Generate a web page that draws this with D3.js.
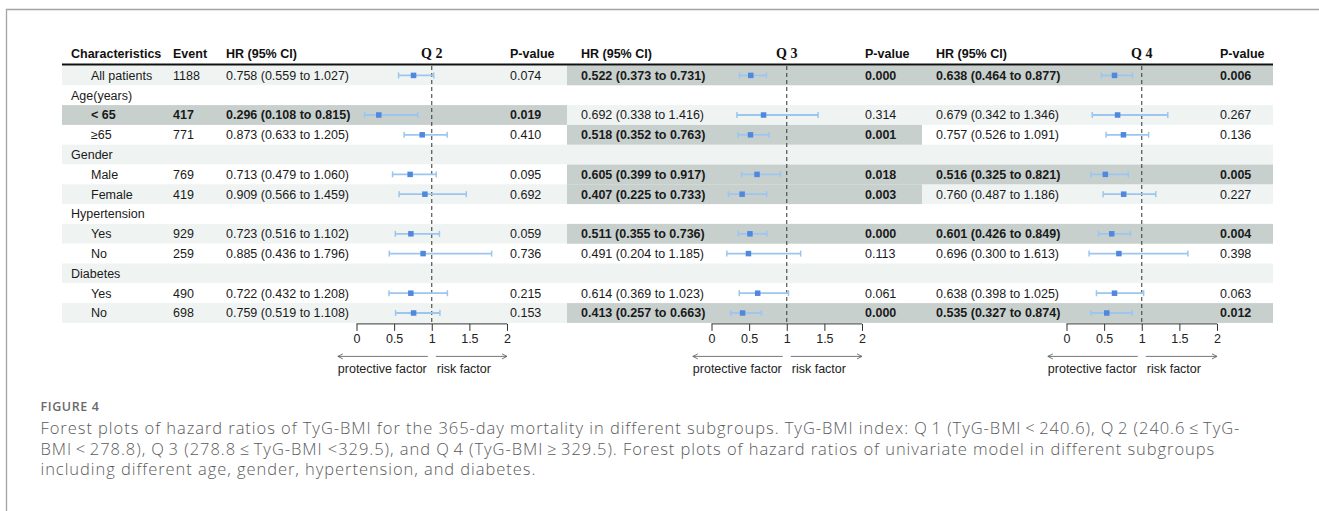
<!DOCTYPE html>
<html>
<head>
<meta charset="utf-8">
<script src="https://cdn.jsdelivr.net/npm/d3@7"></script>
<style>
  body { margin: 0; background: #fff; }
  svg text { font-family: "Liberation Sans", Arial, sans-serif; }
</style>
</head>
<body>
<div id="chart"></div>
<script>
// rows of the table
var labels = ["All patients", "Age(years)", "< 65", "\u226565", "Gender", "Male", "Female",
  "Hypertension", "Yes", "No", "Diabetes", "Yes", "No"];
var groupRow = [false, true, false, false, true, false, false, true, false, false, true, false, false];
var events = [1188, null, 417, 771, null, 769, 419, null, 929, 259, null, 490, 698];

// quartile names
var quartiles = ["Q 2", "Q 3", "Q 4"];

// Q 2
var q2HR = [0.758, null, 0.296, 0.873, null, 0.713, 0.909, null, 0.723, 0.885, null, 0.722, 0.759];
var q2Lo = [0.559, null, 0.108, 0.633, null, 0.479, 0.566, null, 0.516, 0.436, null, 0.432, 0.519];
var q2Hi = [1.027, null, 0.815, 1.205, null, 1.060, 1.459, null, 1.102, 1.796, null, 1.208, 1.108];
var q2P = [0.074, null, 0.019, 0.410, null, 0.095, 0.692, null, 0.059, 0.736, null, 0.215, 0.153];

// Q 3
var q3HR = [0.522, null, 0.692, 0.518, null, 0.605, 0.407, null, 0.511, 0.491, null, 0.614, 0.413];
var q3Lo = [0.373, null, 0.338, 0.352, null, 0.399, 0.225, null, 0.355, 0.204, null, 0.369, 0.257];
var q3Hi = [0.731, null, 1.416, 0.763, null, 0.917, 0.733, null, 0.736, 1.185, null, 1.023, 0.663];
var q3P = [0.000, null, 0.314, 0.001, null, 0.018, 0.003, null, 0.000, 0.113, null, 0.061, 0.000];

// Q 4
var q4HR = [0.638, null, 0.679, 0.757, null, 0.516, 0.760, null, 0.601, 0.696, null, 0.638, 0.535];
var q4Lo = [0.464, null, 0.342, 0.526, null, 0.325, 0.487, null, 0.426, 0.300, null, 0.398, 0.327];
var q4Hi = [0.877, null, 1.346, 1.091, null, 0.821, 1.186, null, 0.849, 1.613, null, 1.025, 0.874];
var q4P = [0.006, null, 0.267, 0.136, null, 0.005, 0.227, null, 0.004, 0.398, null, 0.063, 0.012];

// axis ticks
var tickValues = [0, 0.5, 1, 1.5, 2];

var captionTitle = "FIGURE 4";
var captionLines = [
  "Forest plots of hazard ratios of TyG-BMI for the 365-day mortality in different subgroups. TyG-BMI index: Q\u20091 (TyG-BMI\u2009<\u2009240.6), Q\u20092 (240.6\u2009\u2264\u2009TyG-",
  "BMI\u2009<\u2009278.8), Q\u20093 (278.8\u2009\u2264\u2009TyG-BMI <329.5), and Q\u20094 (TyG-BMI\u2009\u2265\u2009329.5). Forest plots of hazard ratios of univariate model in different subgroups",
  "including different age, gender, hypertension, and diabetes."
];

var blocks = [
  { name: quartiles[0], hr: q2HR, lo: q2Lo, hi: q2Hi, p: q2P },
  { name: quartiles[1], hr: q3HR, lo: q3Lo, hi: q3Hi, p: q3P },
  { name: quartiles[2], hr: q4HR, lo: q4Lo, hi: q4Hi, p: q4P }
];

// layout
var width = 1319, height = 511;
var tableLeft = 62, tableRight = 1273;
var blockEdges = [212, 567, 922, 1273];
var eventX = 173, charX = 71, subX = 91;
var fontSize = 12.5;
var lightFill = "#eff3f2", darkFill = "#c8d0ce";
var ciColor = "#9cc6ef", pointColor = "#5088de";

var svg = d3.select("#chart").append("svg")
  .attr("width", width)
  .attr("height", height);

// frame
svg.append("path")
  .attr("d", "M6.5,511 V9.5 H1319")
  .attr("fill", "none")
  .attr("stroke", "#a3a3a3")
  .attr("stroke-width", 1.3);

var y = d3.scaleBand()
  .domain(d3.range(labels.length))
  .range([65.5, 65.5 + 19.8 * labels.length]);

var headerY = 54;
var fmt = d3.format(".3f");
var fmtHR = function (i, b) {
  return fmt(b.hr[i]) + " (" + fmt(b.lo[i]) + " to " + fmt(b.hi[i]) + ")";
};

// zebra rows
svg.append("g").selectAll("rect")
  .data(d3.range(labels.length))
  .enter().append("rect")
  .attr("x", tableLeft)
  .attr("y", function (i) { return y(i); })
  .attr("width", tableRight - tableLeft)
  .attr("height", y.bandwidth())
  .attr("fill", function (i) { return i % 2 == 0 ? lightFill : "#fff"; });

// significant cells
blocks.forEach(function (b, k) {
  var x0 = k == 0 ? tableLeft : blockEdges[k];
  svg.append("g").selectAll("rect")
    .data(d3.range(labels.length).filter(function (i) { return b.p[i] != null && b.p[i] < 0.05; }))
    .enter().append("rect")
    .attr("x", x0)
    .attr("y", function (i) { return y(i); })
    .attr("width", blockEdges[k + 1] - x0)
    .attr("height", y.bandwidth())
    .attr("fill", darkFill);
});

// header
var header = svg.append("g")
  .attr("font-size", fontSize)
  .attr("font-weight", "bold")
  .attr("fill", "#111");
header.append("text").attr("x", charX).attr("y", headerY).attr("dy", "0.35em").text("Characteristics");
header.append("text").attr("x", eventX).attr("y", headerY).attr("dy", "0.35em").text("Event");

svg.append("line")
  .attr("x1", tableLeft).attr("x2", tableRight)
  .attr("y1", 64.5).attr("y2", 64.5)
  .attr("stroke", "#111")
  .attr("stroke-width", 2);

// characteristics and events
var boldFirst = function (i) { return q2P[i] != null && q2P[i] < 0.05; };
var left = svg.append("g").attr("font-size", fontSize).attr("fill", "#1a1a1a");
left.selectAll(".lab")
  .data(d3.range(labels.length))
  .enter().append("text")
  .attr("x", function (i) { return groupRow[i] ? charX : subX; })
  .attr("y", function (i) { return y(i) + y.bandwidth() / 2; })
  .attr("dy", "0.35em")
  .attr("font-weight", function (i) { return boldFirst(i) ? "bold" : null; })
  .text(function (i) { return labels[i]; });
left.selectAll(".ev")
  .data(d3.range(labels.length).filter(function (i) { return events[i] != null; }))
  .enter().append("text")
  .attr("x", eventX)
  .attr("y", function (i) { return y(i) + y.bandwidth() / 2; })
  .attr("dy", "0.35em")
  .attr("font-weight", function (i) { return boldFirst(i) ? "bold" : null; })
  .text(function (i) { return events[i]; });

// one block per quartile
blocks.forEach(function (b, k) {
  var start = blockEdges[k];
  var x = d3.scaleLinear().domain([0, 2]).range([start + 144.5, start + 295]);
  var pX = start + 298;
  var hrX = start + 14;
  var rows = d3.range(labels.length).filter(function (i) { return b.hr[i] != null; });
  var sig = function (i) { return b.p[i] < 0.05; };
  var g = svg.append("g");

  // header texts
  g.append("text").attr("x", hrX).attr("y", headerY).attr("dy", "0.35em")
    .attr("font-size", fontSize).attr("font-weight", "bold").attr("fill", "#111")
    .text("HR (95% CI)");
  g.append("text").attr("x", pX).attr("y", headerY).attr("dy", "0.35em")
    .attr("font-size", fontSize).attr("font-weight", "bold").attr("fill", "#111")
    .text("P-value");
  g.append("text").attr("x", x(1)).attr("y", headerY - 0.5).attr("dy", "0.35em")
    .attr("text-anchor", "middle")
    .style("font-family", "'Liberation Serif', 'Times New Roman', serif")
    .attr("font-size", 14).attr("font-weight", "bold").attr("fill", "#111")
    .text(b.name);

  // HR and P text
  g.selectAll(".hr").data(rows).enter().append("text")
    .attr("x", hrX)
    .attr("y", function (i) { return y(i) + y.bandwidth() / 2; })
    .attr("dy", "0.35em")
    .attr("font-size", fontSize)
    .attr("font-weight", function (i) { return sig(i) ? "bold" : null; })
    .attr("fill", "#1a1a1a")
    .text(function (i) { return fmtHR(i, b); });
  g.selectAll(".pv").data(rows).enter().append("text")
    .attr("x", pX)
    .attr("y", function (i) { return y(i) + y.bandwidth() / 2; })
    .attr("dy", "0.35em")
    .attr("font-size", fontSize)
    .attr("font-weight", function (i) { return sig(i) ? "bold" : null; })
    .attr("fill", "#1a1a1a")
    .text(function (i) { return fmt(b.p[i]); });

  // reference line
  var axisY = y.range()[1] + 1;
  g.append("line")
    .attr("x1", x(1)).attr("x2", x(1))
    .attr("y1", 66).attr("y2", axisY)
    .attr("stroke", "#444")
    .attr("stroke-width", 1.1)
    .attr("stroke-dasharray", "4,3");

  // confidence intervals
  var ci = g.selectAll(".ci").data(rows).enter().append("g")
    .attr("transform", function (i) { return "translate(0," + (y(i) + y.bandwidth() / 2) + ")"; });
  ci.append("line")
    .attr("x1", function (i) { return x(b.lo[i]); })
    .attr("x2", function (i) { return x(b.hi[i]); })
    .attr("stroke", ciColor).attr("stroke-width", 1.8);
  ci.append("line")
    .attr("x1", function (i) { return x(b.lo[i]); })
    .attr("x2", function (i) { return x(b.lo[i]); })
    .attr("y1", -3).attr("y2", 3)
    .attr("stroke", ciColor).attr("stroke-width", 1.5);
  ci.append("line")
    .attr("x1", function (i) { return x(b.hi[i]); })
    .attr("x2", function (i) { return x(b.hi[i]); })
    .attr("y1", -3).attr("y2", 3)
    .attr("stroke", ciColor).attr("stroke-width", 1.5);
  ci.append("rect")
    .attr("x", function (i) { return x(b.hr[i]) - 2.75; })
    .attr("y", -2.75)
    .attr("width", 5.5).attr("height", 5.5)
    .attr("fill", pointColor);

  // x axis
  var axis = g.append("g")
    .attr("transform", "translate(0," + axisY + ")")
    .call(d3.axisBottom(x).tickValues(tickValues).tickSize(7).tickPadding(3)
      .tickFormat(d3.format("")));
  axis.select(".domain").attr("stroke", "#333").attr("d", "M" + x(0) + ",0H" + x(2));
  axis.selectAll(".tick line").attr("stroke", "#333");
  axis.selectAll(".tick text")
    .style("font-family", "'Liberation Sans', Arial, sans-serif")
    .attr("font-size", fontSize).attr("fill", "#222");

  // arrows with labels
  var arrowY = axisY + 32.5;
  var ref = x(1);
  var leftLab = g.append("text")
    .attr("x", ref - 5).attr("y", arrowY + 12).attr("dy", "0.35em")
    .attr("text-anchor", "end")
    .attr("font-size", fontSize).attr("fill", "#222")
    .text("protective factor");
  var rightLab = g.append("text")
    .attr("x", ref + 5).attr("y", arrowY + 12).attr("dy", "0.35em")
    .attr("font-size", fontSize).attr("fill", "#222")
    .text("risk factor");
  var lw = leftLab.node().getComputedTextLength();
  var rw = rightLab.node().getComputedTextLength();
  var lEnd = Math.min(x(0), ref - 5 - lw);
  var rEnd = Math.max(x(2), ref + 5 + rw);
  g.append("path")
    .attr("d", "M" + (ref - 4) + "," + arrowY + "H" + lEnd +
      "M" + (lEnd + 5) + "," + (arrowY - 2.5) + "L" + lEnd + "," + arrowY + "L" + (lEnd + 5) + "," + (arrowY + 2.5) +
      "M" + (ref + 4) + "," + arrowY + "H" + rEnd +
      "M" + (rEnd - 5) + "," + (arrowY - 2.5) + "L" + rEnd + "," + arrowY + "L" + (rEnd - 5) + "," + (arrowY + 2.5))
    .attr("fill", "none")
    .attr("stroke", "#666")
    .attr("stroke-width", 0.9);
});

// caption
var cap = svg.append("g");
cap.append("text")
  .attr("x", 40.5).attr("y", 410.5)
  .style("font-family", "'Open Sans', 'Noto Sans', sans-serif")
  .style("letter-spacing", "0.6px")
  .attr("font-size", 12.5).attr("font-weight", 600)
  .attr("fill", "#6a6a6a")
  .text(captionTitle);
cap.selectAll(".line").data(captionLines).enter().append("text")
  .attr("x", 40.5)
  .attr("y", function (d, i) { return 434 + i * 20.5; })
  .style("font-family", "'Open Sans', 'Noto Sans', sans-serif")
  .style("letter-spacing", "0.95px")
  .attr("font-size", 16.5)
  .attr("font-weight", 300)
  .attr("fill", "#5a5a5c")
  .text(function (d) { return d; });
</script>
</body>
</html>
